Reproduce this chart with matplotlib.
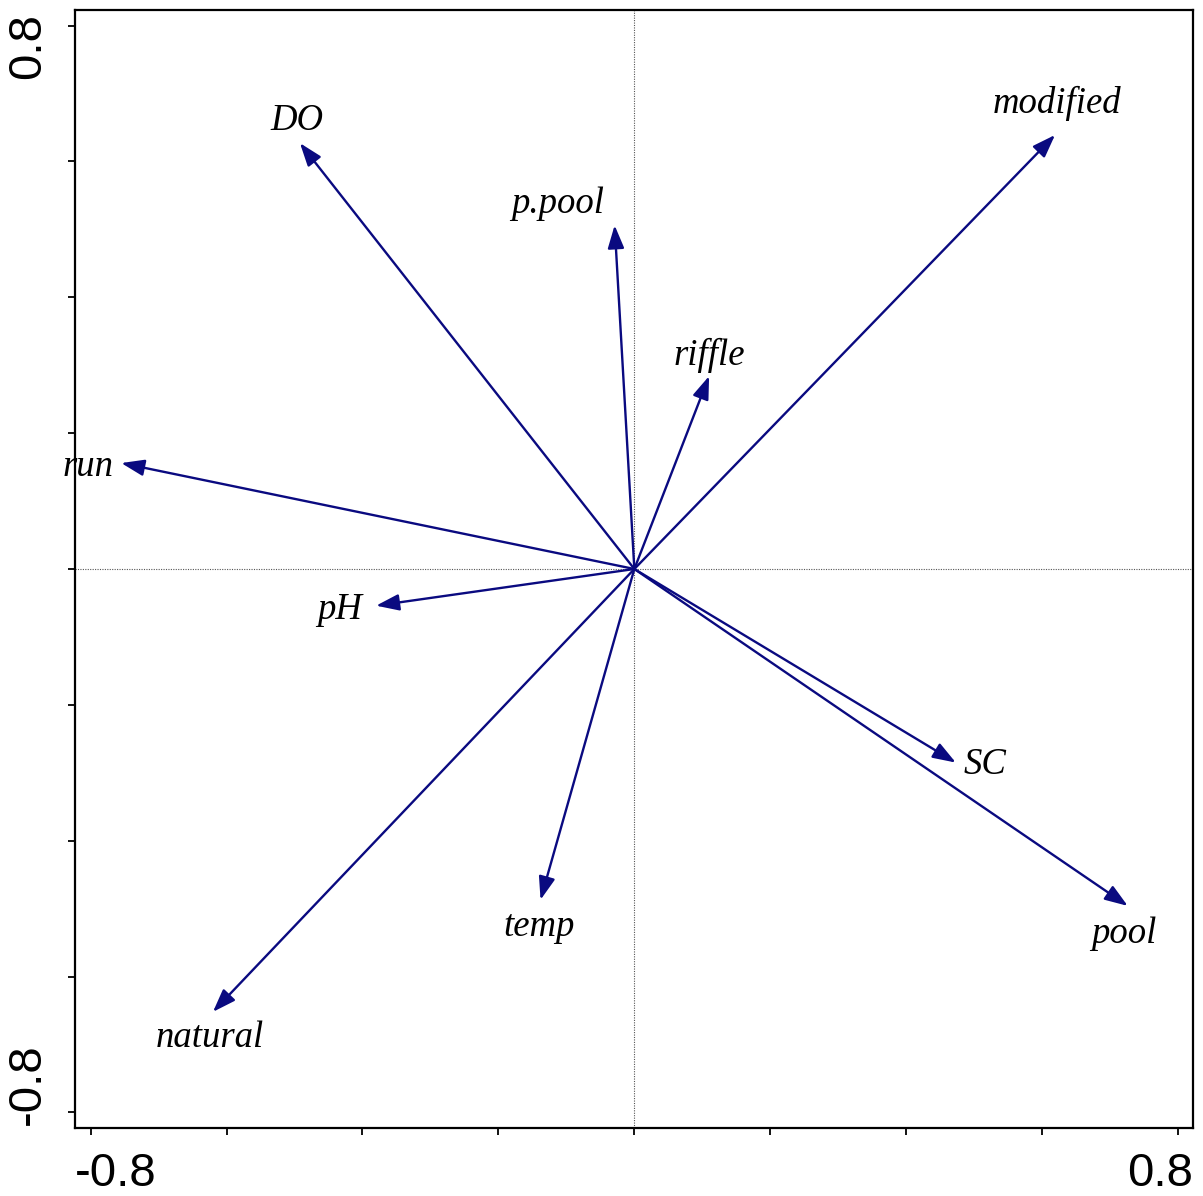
import matplotlib
matplotlib.use('Agg')
import matplotlib.pyplot as plt

# environmental variables (biplot arrows, axis 1 / axis 2 scores)
names = ["DO", "p.pool", "riffle", "modified", "run", "pH", "SC", "pool", "temp", "natural"]
ax1 = [-0.492, -0.029, 0.110, 0.619, -0.755, -0.380, 0.473, 0.726, -0.138, -0.620]
ax2 = [0.627, 0.506, 0.284, 0.639, 0.156, -0.054, -0.285, -0.496, -0.487, -0.652]

tick_vals = [-0.8, -0.6, -0.4, -0.2, 0.0, 0.2, 0.4, 0.6, 0.8]
end_labels = ["-0.8", "0.8"]

# label offsets from arrow tip, pixels (layout only)
label_off = {
    "DO": (-3, 22), "p.pool": (-57, 22), "riffle": (0, 21), "modified": (2, 32),
    "run": (-33, -4), "pH": (-36, -4), "SC": (29, -2), "pool": (-4, -28),
    "temp": (-1, -27), "natural": (-3, -26),
}

arrow_col = '#0a0a80'

fig = plt.figure(figsize=(12.03, 11.96), dpi=100)
ax = fig.add_axes([75/1203, 68/1196, 1118/1203, 1118/1196])
ax.set_xlim(-0.823, 0.822)
ax.set_ylim(-0.823, 0.823)

###原点を通る点線
ax.axhline(0, color='#555555', lw=0.8, ls=(0, (1, 1.2)))
ax.axvline(0, color='#555555', lw=0.8, ls=(0, (1, 1.2)))

for n, x, y in zip(names, ax1, ax2):
    ax.annotate('', xy=(x, y), xytext=(0, 0),
                arrowprops=dict(arrowstyle='-|>,head_length=0.7,head_width=0.25',
                                mutation_scale=20, color=arrow_col, lw=1.7,
                                shrinkA=0, shrinkB=0))
    dx, dy = label_off[n]
    ax.annotate(n, xy=(x, y), xytext=(dx, dy), textcoords='offset pixels',
                ha='center', va='center', fontsize=26.5, style='italic',
                family='Liberation Serif', annotation_clip=False)

ax.set_xticks(tick_vals)
ax.set_yticks(tick_vals)
ax.set_xticklabels([])
ax.set_yticklabels([])
ax.tick_params(direction='out', length=5, width=1.3)
for s in ax.spines.values():
    s.set_linewidth(1.6)

###端の目盛ラベル
tf = dict(fontsize=34, family='Liberation Sans')
ax.annotate(end_labels[0], xy=(0, 0), xycoords='axes fraction', xytext=(0, -24),
            textcoords='offset pixels', ha='left', va='top', **tf)
ax.annotate(end_labels[1], xy=(1, 0), xycoords='axes fraction', xytext=(0, -24),
            textcoords='offset pixels', ha='right', va='top', **tf)
ax.annotate(end_labels[0], xy=(0, 0), xycoords='axes fraction', xytext=(-25, 3),
            textcoords='offset pixels', ha='right', va='bottom', rotation=90, **tf)
ax.annotate(end_labels[1], xy=(0, 1), xycoords='axes fraction', xytext=(-25, -3),
            textcoords='offset pixels', ha='right', va='top', rotation=90, **tf)

fig.savefig('out.png', dpi=100)
